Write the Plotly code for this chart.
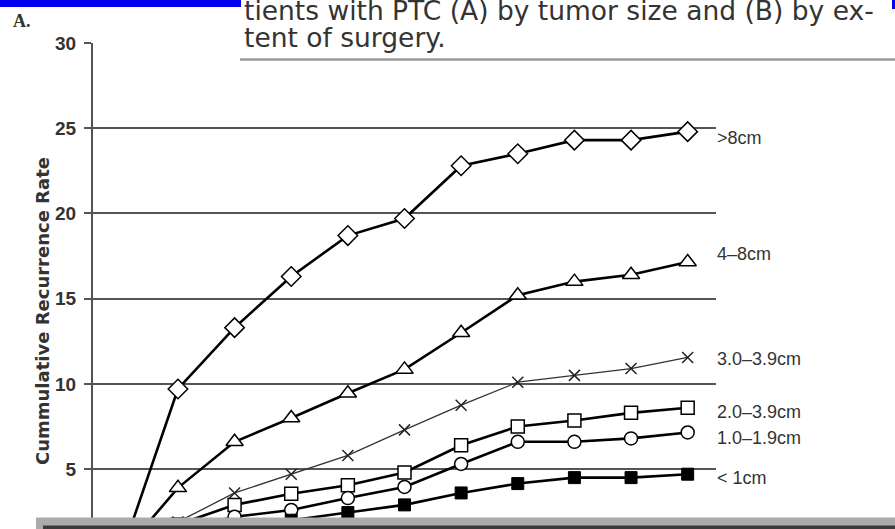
import plotly.graph_objects as go

# ---- data ----
years = [0, 1, 2, 3, 4, 5, 6, 7, 8, 9, 10]
gt8 = [0, 9.7, 13.3, 16.3, 18.7, 19.7, 22.8, 23.5, 24.3, 24.3, 24.8]
s4_8 = [0, 3.9, 6.6, 8.0, 9.45, 10.85, 13.0, 15.2, 16.0, 16.4, 17.15]
s3_39 = [0, 1.9, 3.6, 4.7, 5.8, 7.3, 8.75, 10.1, 10.5, 10.9, 11.55]
s2_39 = [0, 1.75, 2.9, 3.55, 4.05, 4.8, 6.4, 7.5, 7.85, 8.3, 8.6]
s1_19 = [0, 1.4, 2.2, 2.6, 3.3, 3.95, 5.3, 6.6, 6.6, 6.8, 7.15]
lt1 = [0, 1.0, 1.6, 2.0, 2.45, 2.9, 3.6, 4.15, 4.5, 4.5, 4.7]

series_labels = [">8cm", "4\u20138cm", "3.0\u20133.9cm", "2.0\u20133.9cm", "1.0\u20131.9cm", "< 1cm"]
label_y = [24.4, 17.6, 11.45, 8.33, 6.8, 4.5]
y_ticks = [5, 10, 15, 20, 25, 30]
caption_lines = ["tients with PTC (A) by tumor size and (B) by ex-", "tent of surgery."]

W, H = 895, 529
L, R, T, B = 93, 716, 43, 529


def fx(p):
    return (p - L) / (R - L)


def fy(p):
    return (B - p) / (B - T)


fig = go.Figure()

styles = [
    (gt8, dict(symbol="diamond", size=15, color="white", line=dict(color="black", width=1.5)), dict(color="black", width=2.6)),
    (s4_8, dict(symbol="triangle-up", size=15, color="white", line=dict(color="black", width=1.5)), dict(color="black", width=2.6)),
    (s3_39, dict(symbol="x-thin", size=11, color="black", line=dict(color="#222", width=1.5)), dict(color="#333", width=1.3)),
    (s2_39, dict(symbol="square", size=13, color="white", line=dict(color="black", width=1.5)), dict(color="black", width=2.6)),
    (s1_19, dict(symbol="circle", size=13, color="white", line=dict(color="black", width=1.5)), dict(color="black", width=2.6)),
    (lt1, dict(symbol="square", size=12, color="black", line=dict(color="black", width=1)), dict(color="black", width=2.6)),
]
for vals, mk, ln in styles:
    fig.add_trace(go.Scatter(x=years, y=vals, mode="lines+markers", marker=mk, line=ln,
                             showlegend=False, hoverinfo="skip"))

# series labels
for txt, yv in zip(series_labels, label_y):
    fig.add_annotation(x=fx(715), xref="paper", y=yv, yref="y", text=txt, showarrow=False,
                       xanchor="left", yanchor="middle",
                       font=dict(family="Liberation Sans, Arial", size=18, color="#333"))

shapes = []
# gray band at bottom
shapes.append(dict(type="rect", xref="paper", yref="paper", x0=fx(36), x1=fx(895), y0=fy(529), y1=fy(517.5),
                   fillcolor="#ababab", line=dict(width=0), layer="above"))
shapes.append(dict(type="rect", xref="paper", yref="paper", x0=fx(43), x1=fx(895), y0=fy(529), y1=fy(525.5),
                   fillcolor="#3c3c3c", line=dict(width=0), layer="above"))
# caption white box
shapes.append(dict(type="rect", xref="paper", yref="paper", x0=fx(240), x1=fx(895), y0=fy(58), y1=fy(0),
                   fillcolor="white", line=dict(width=0), layer="above"))
shapes.append(dict(type="line", xref="paper", yref="paper", x0=fx(240), x1=fx(895), y0=fy(59.5), y1=fy(59.5),
                   line=dict(color="#9a9a9a", width=2.5), layer="above"))
# blue bars
shapes.append(dict(type="rect", xref="paper", yref="paper", x0=fx(0), x1=fx(241), y0=fy(7), y1=fy(0),
                   fillcolor="#0000ee", line=dict(width=0), layer="above"))
shapes.append(dict(type="rect", xref="paper", yref="paper", x0=fx(892), x1=fx(895), y0=fy(9), y1=fy(0),
                   fillcolor="#0000ee", line=dict(width=0), layer="above"))

fig.update_layout(shapes=shapes)

# caption text
for txt, cy in zip(caption_lines, [10.5, 37.5]):
    fig.add_annotation(x=fx(242), xref="paper", y=fy(cy), yref="paper", xanchor="left", yanchor="middle",
                       text=txt, showarrow=False,
                       font=dict(family="DejaVu Sans", size=26.5, color="#333"))
# panel label
fig.add_annotation(x=fx(11), xref="paper", y=fy(21), yref="paper", xanchor="left", yanchor="middle",
                   text="<b>A.</b>", showarrow=False,
                   font=dict(family="Liberation Serif", size=18, color="#333"))
# y-axis title
fig.add_annotation(x=fx(43), xref="paper", y=fy(311), yref="paper", xanchor="center", yanchor="middle",
                   text="<b>Cummulative Recurrence Rate</b>", showarrow=False, textangle=-90,
                   font=dict(family="DejaVu Sans", size=18, color="#333"))

fig.update_xaxes(range=[-0.5, 10.5], showgrid=False, zeroline=False, showticklabels=False,
                 showline=False, ticks="")
fig.update_yaxes(range=[1.485, 30], tickvals=y_ticks, showgrid=True, gridcolor="#555", gridwidth=2,
                 zeroline=False, showline=True, linecolor="#555", linewidth=2,
                 ticks="outside", ticklen=7, tickwidth=2, tickcolor="#555",
                 ticklabelstandoff=4,
                 tickfont=dict(family="Liberation Sans, Arial", size=19, color="#333", weight="bold"))

fig.update_layout(width=W, height=H, autosize=False,
                  margin=dict(l=L, r=W - R, t=T, b=H - B),
                  paper_bgcolor="white", plot_bgcolor="white")

fig.write_html("out.html")
